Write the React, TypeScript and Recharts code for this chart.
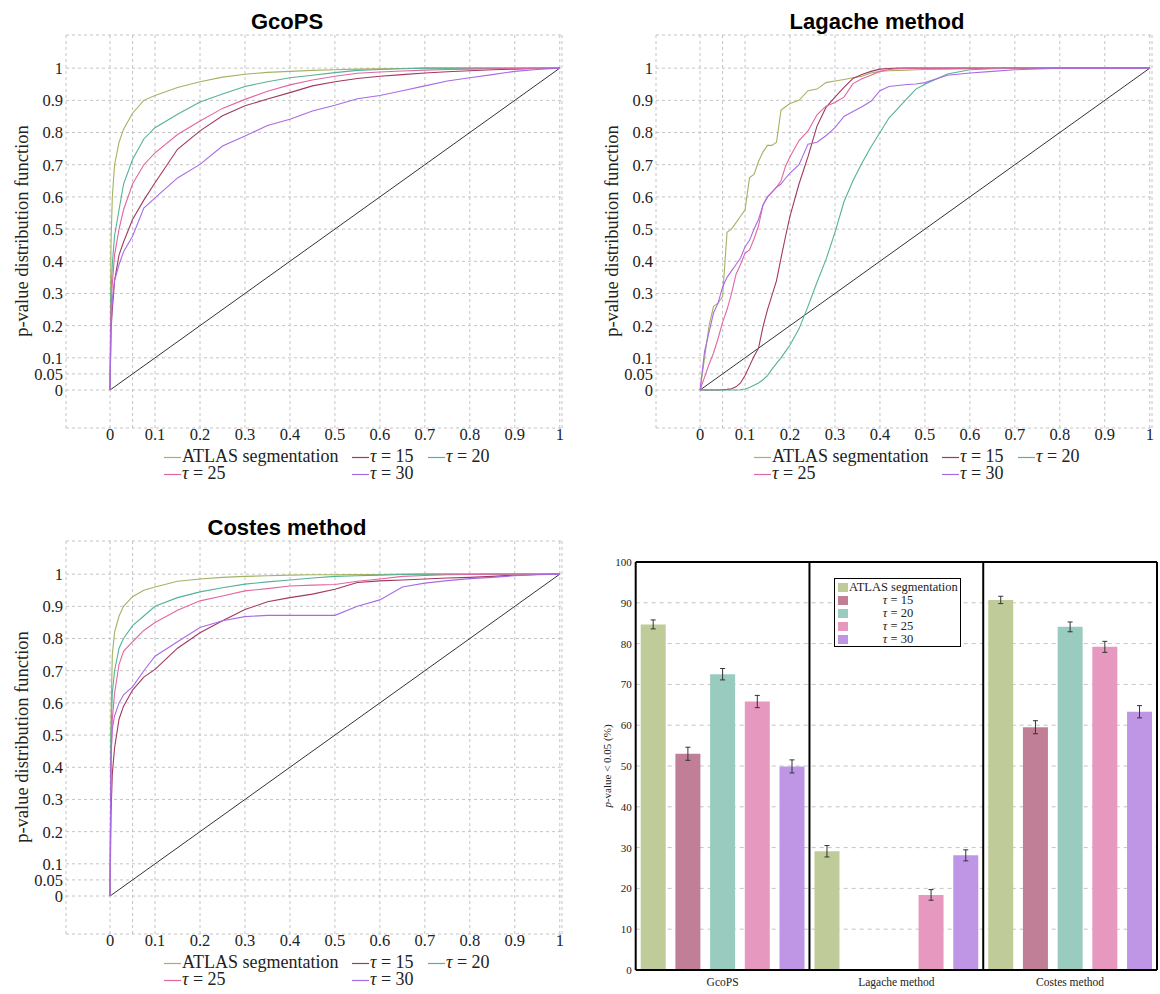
import React from "react";
import {
  LineChart,
  Line,
  XAxis,
  YAxis,
  CartesianGrid,
  ReferenceLine,
  BarChart,
  Bar,
  ErrorBar,
} from "recharts";

// x grid shared by the GcoPS and Costes curves
const smoothX = [0, 0.002, 0.005, 0.01, 0.02, 0.03, 0.05, 0.075, 0.1, 0.15, 0.2, 0.25, 0.3, 0.35, 0.4, 0.45, 0.5, 0.55, 0.6, 0.65, 0.7, 0.75, 0.8, 0.85, 0.9, 0.95, 1];

const gcopsAtlas = [0, 0.45, 0.6, 0.7, 0.77, 0.81, 0.86, 0.9, 0.915, 0.94, 0.958, 0.972, 0.981, 0.987, 0.99, 0.993, 0.995, 0.997, 0.998, 0.999, 1, 1, 1, 1, 1, 1, 1];
const gcopsTau15 = [0, 0.18, 0.25, 0.34, 0.42, 0.46, 0.53, 0.59, 0.644, 0.748, 0.805, 0.852, 0.883, 0.904, 0.924, 0.945, 0.958, 0.968, 0.975, 0.98, 0.985, 0.989, 0.992, 0.995, 0.997, 0.999, 1];
const gcopsTau20 = [0, 0.3, 0.39, 0.48, 0.56, 0.64, 0.716, 0.78, 0.815, 0.857, 0.895, 0.92, 0.943, 0.958, 0.97, 0.978, 0.986, 0.993, 0.996, 0.998, 1, 1, 1, 1, 1, 1, 1];
const gcopsTau25 = [0, 0.25, 0.33, 0.42, 0.5, 0.56, 0.64, 0.7, 0.737, 0.794, 0.836, 0.875, 0.903, 0.928, 0.948, 0.963, 0.975, 0.984, 0.988, 0.991, 0.994, 0.996, 0.997, 0.998, 0.999, 1, 1];
const gcopsTau30 = [0, 0.2, 0.28, 0.34, 0.39, 0.43, 0.478, 0.565, 0.597, 0.659, 0.701, 0.758, 0.789, 0.822, 0.841, 0.867, 0.885, 0.905, 0.915, 0.93, 0.945, 0.96, 0.97, 0.98, 0.99, 0.996, 1];

const costesAtlas = [0, 0.55, 0.75, 0.82, 0.87, 0.9, 0.93, 0.95, 0.96, 0.978, 0.985, 0.99, 0.993, 0.995, 0.997, 0.998, 0.998, 0.999, 0.999, 1, 1, 1, 1, 1, 1, 1, 1];
const costesTau15 = [0, 0.25, 0.38, 0.46, 0.55, 0.59, 0.64, 0.68, 0.704, 0.77, 0.818, 0.855, 0.89, 0.914, 0.927, 0.938, 0.953, 0.974, 0.979, 0.982, 0.985, 0.988, 0.99, 0.993, 0.997, 0.999, 1];
const costesTau20 = [0, 0.5, 0.63, 0.7, 0.77, 0.8, 0.84, 0.87, 0.9, 0.927, 0.945, 0.958, 0.969, 0.976, 0.982, 0.988, 0.993, 0.995, 0.997, 0.999, 1, 1, 1, 1, 1, 1, 1];
const costesTau25 = [0, 0.4, 0.55, 0.63, 0.72, 0.76, 0.79, 0.825, 0.85, 0.888, 0.917, 0.932, 0.948, 0.955, 0.963, 0.966, 0.968, 0.978, 0.985, 0.993, 0.996, 0.998, 0.999, 1, 1, 1, 1];
const costesTau30 = [0, 0.44, 0.52, 0.56, 0.6, 0.625, 0.65, 0.7, 0.745, 0.79, 0.834, 0.855, 0.868, 0.872, 0.872, 0.872, 0.872, 0.9, 0.92, 0.96, 0.972, 0.98, 0.986, 0.99, 0.995, 0.998, 1];

// finer grid for the stair-like Lagache curves
const lagacheX = [0, 0.01, 0.02, 0.03, 0.04, 0.05, 0.06, 0.07, 0.08, 0.09, 0.1, 0.11, 0.12, 0.13, 0.14, 0.15, 0.16, 0.17, 0.18, 0.19, 0.2, 0.22, 0.24, 0.26, 0.28, 0.3, 0.32, 0.34, 0.36, 0.38, 0.4, 0.42, 0.44, 0.46, 0.48, 0.5, 0.55, 0.6, 0.65, 0.7, 0.8, 0.9, 1];

const lagacheAtlas = [0, 0.1, 0.2, 0.26, 0.27, 0.29, 0.49, 0.5, 0.52, 0.54, 0.56, 0.66, 0.67, 0.71, 0.74, 0.76, 0.76, 0.77, 0.87, 0.88, 0.89, 0.9, 0.93, 0.935, 0.955, 0.96, 0.965, 0.97, 0.975, 0.985, 0.99, 0.992, 0.993, 0.994, 0.995, 0.996, 0.997, 0.998, 0.999, 1, 1, 1, 1];
const lagacheTau15 = [0, 0, 0, 0, 0, 0.001, 0.002, 0.004, 0.01, 0.022, 0.045, 0.075, 0.105, 0.13, 0.197, 0.25, 0.295, 0.34, 0.41, 0.477, 0.54, 0.64, 0.725, 0.82, 0.878, 0.91, 0.94, 0.968, 0.98, 0.99, 0.997, 0.999, 1, 1, 1, 1, 1, 1, 1, 1, 1, 1, 1];
const lagacheTau20 = [0, 0, 0, 0, 0, 0, 0, 0, 0, 0.001, 0.003, 0.008, 0.015, 0.022, 0.032, 0.045, 0.065, 0.083, 0.1, 0.12, 0.14, 0.19, 0.26, 0.335, 0.405, 0.49, 0.585, 0.65, 0.705, 0.755, 0.8, 0.845, 0.875, 0.905, 0.935, 0.95, 0.982, 0.995, 0.998, 1, 1, 1, 1];
const lagacheTau25 = [0, 0.04, 0.08, 0.115, 0.16, 0.21, 0.25, 0.3, 0.36, 0.39, 0.425, 0.435, 0.47, 0.51, 0.575, 0.6, 0.615, 0.63, 0.65, 0.695, 0.725, 0.775, 0.805, 0.855, 0.882, 0.893, 0.91, 0.952, 0.967, 0.978, 0.99, 0.996, 0.998, 1, 1, 1, 1, 1, 1, 1, 1, 1, 1];
const lagacheTau30 = [0, 0.12, 0.18, 0.24, 0.27, 0.32, 0.35, 0.37, 0.39, 0.41, 0.445, 0.465, 0.5, 0.53, 0.575, 0.6, 0.615, 0.63, 0.64, 0.658, 0.674, 0.7, 0.764, 0.77, 0.79, 0.815, 0.85, 0.865, 0.88, 0.897, 0.93, 0.943, 0.946, 0.949, 0.951, 0.955, 0.978, 0.985, 0.99, 0.995, 1, 1, 1];

const xTicks = [0, 0.05, 0.1, 0.2, 0.3, 0.4, 0.5, 0.6, 0.7, 0.8, 0.9, 1];
const yTicks = [0, 0.05, 0.1, 0.2, 0.3, 0.4, 0.5, 0.6, 0.7, 0.8, 0.9, 1];

// bar panel: share of p-values < 0.05 (%)
const methods = ["GcoPS", "Lagache method", "Costes method"];
const pctAtlas = [84.7, 29.1, 90.7];
const pctTau15 = [53.0, 0.2, 59.5];
const pctTau20 = [72.5, 0.2, 84.1];
const pctTau25 = [65.8, 18.4, 79.2];
const pctTau30 = [49.9, 28.1, 63.3];
const errAtlas = [1.1, 1.4, 0.9];
const errTau15 = [1.6, 0, 1.6];
const errTau20 = [1.4, 0, 1.2];
const errTau25 = [1.5, 1.3, 1.35];
const errTau30 = [1.6, 1.35, 1.5];
const pctTicks = [0, 10, 20, 30, 40, 50, 60, 70, 80, 90, 100];

const SERIES = [
  { key: "atlas", color: "#a5b262", bar: "#bfcc99", label: "ATLAS segmentation", tau: "" },
  { key: "tau15", color: "#a2385f", bar: "#c07f96", label: "", tau: "15" },
  { key: "tau20", color: "#55b296", bar: "#99cbbf", label: "", tau: "20" },
  { key: "tau25", color: "#e266a3", bar: "#e698be", label: "", tau: "25" },
  { key: "tau30", color: "#a86be6", bar: "#bf96e5", label: "", tau: "30" },
];

const SERIF = '"Liberation Serif", "Times New Roman", serif';
const INK = "#222";

function SeriesLabel({ s }: { s: (typeof SERIES)[number] }) {
  if (s.label) return <>{s.label}</>;
  return (
    <>
      <i>τ</i> = {s.tau}
    </>
  );
}

// legend slots under each CDF panel: [left, row]
const legendSlots: [number, number][] = [
  [164, 0],
  [352, 0],
  [428, 0],
  [164, 1],
  [352, 1],
];

function CdfPanel({
  left,
  top,
  title,
  xs,
  values,
}: {
  left: number;
  top: number;
  title: string;
  xs: number[];
  values: number[][];
}) {
  const rows = xs.map((x, i) => {
    const r: Record<string, number> = { x };
    SERIES.forEach((s, j) => (r[s.key] = values[j][i]));
    return r;
  });
  const tick = { fontFamily: SERIF, fontSize: 16.5, fill: INK };

  return (
    <div style={{ position: "absolute", left, top, width: 580, height: 490 }}>
      <div
        style={{
          position: "absolute",
          left: 0,
          top: 11,
          width: 574,
          textAlign: "center",
          fontFamily: '"Liberation Sans", Arial, sans-serif',
          fontWeight: "bold",
          fontSize: 22,
          lineHeight: 1,
          color: "#000",
        }}
      >
        {title}
      </div>
      <div
        style={{
          position: "absolute",
          left: 22 - 150,
          top: 231 - 11,
          width: 300,
          height: 22,
          lineHeight: "22px",
          textAlign: "center",
          transform: "rotate(-90deg)",
          fontFamily: SERIF,
          fontSize: 18.5,
          color: INK,
        }}
      >
        p-value distribution function
      </div>
      <div style={{ position: "absolute", left: 0, top: 0 }}>
        <LineChart width={580} height={450} data={rows} margin={{ top: 35, right: 18, bottom: 0, left: 0 }}>
          <CartesianGrid stroke="#c4c4c4" strokeDasharray="3 3" />
          <XAxis
            dataKey="x"
            type="number"
            domain={[-0.098, 1.005]}
            allowDataOverflow
            ticks={xTicks}
            interval={0}
            tickFormatter={(v: number) => (v === 0.05 ? "" : String(v))}
            tickLine={false}
            axisLine={false}
            tickSize={0}
            tickMargin={0}
            height={22}
            tick={tick}
          />
          <YAxis
            type="number"
            domain={[-0.118, 1.103]}
            allowDataOverflow
            ticks={yTicks}
            interval={0}
            tickFormatter={(v: number) => String(v)}
            tickLine={false}
            axisLine={false}
            tickSize={0}
            tickMargin={3}
            width={66}
            tick={tick}
          />
          <ReferenceLine segment={[{ x: 0, y: 0 }, { x: 1, y: 1 }]} stroke="#333" strokeWidth={1} />
          {SERIES.map((s) => (
            <Line
              key={s.key}
              type="linear"
              dataKey={s.key}
              stroke={s.color}
              strokeWidth={1.1}
              dot={false}
              isAnimationActive={false}
            />
          ))}
        </LineChart>
      </div>
      {SERIES.map((s, i) => {
        const [lx, row] = legendSlots[i];
        return (
          <div
            key={s.key}
            style={{
              position: "absolute",
              left: lx,
              top: 448 + row * 17.3,
              height: 17,
              lineHeight: "17px",
              whiteSpace: "nowrap",
              fontFamily: SERIF,
              fontSize: 18,
              color: INK,
            }}
          >
            <svg width={18} height={17} style={{ verticalAlign: "top" }}>
              <line x1={0} x2={17} y1={9.5} y2={9.5} stroke={s.color} strokeWidth={1.2} />
            </svg>
            <SeriesLabel s={s} />
          </div>
        );
      })}
    </div>
  );
}

function PctBars() {
  const pct = [pctAtlas, pctTau15, pctTau20, pctTau25, pctTau30];
  const err = [errAtlas, errTau15, errTau20, errTau25, errTau30];
  const rows = methods.map((name, i) => {
    const r: Record<string, number | string> = { name };
    SERIES.forEach((s, j) => {
      r[s.key] = pct[j][i];
      r[s.key + "Err"] = err[j][i];
    });
    return r;
  });

  return (
    <div style={{ position: "absolute", left: 590, top: 540, width: 570, height: 454 }}>
      <div
        style={{
          position: "absolute",
          left: 17 - 80,
          top: 226 - 8,
          width: 160,
          height: 16,
          lineHeight: "16px",
          textAlign: "center",
          transform: "rotate(-90deg)",
          fontFamily: SERIF,
          fontSize: 11,
          color: INK,
          whiteSpace: "nowrap",
        }}
      >
        <i>p</i>-value &lt; 0.05 (%)
      </div>
      <div style={{ position: "absolute", left: 0, top: 0 }}>
        <BarChart
          width={570}
          height={454}
          data={rows}
          margin={{ top: 22, right: 3, bottom: 0, left: 0 }}
          barSize={25}
          barGap={9.7}
        >
          <CartesianGrid vertical={false} stroke="#c4c4c4" strokeDasharray="4 4" />
          <XAxis
            dataKey="name"
            interval={0}
            tickLine={false}
            axisLine={false}
            tickSize={0}
            tickMargin={8}
            height={24}
            tick={{ fontFamily: SERIF, fontSize: 11.5, fill: INK }}
          />
          <YAxis
            domain={[0, 100]}
            ticks={pctTicks}
            interval={0}
            tickLine={false}
            axisLine={false}
            tickSize={0}
            tickMargin={4}
            width={45.7}
            tick={{ fontFamily: SERIF, fontSize: 11, fill: INK }}
          />
          {SERIES.map((s) => (
            <Bar key={s.key} dataKey={s.key} fill={s.bar} isAnimationActive={false}>
              <ErrorBar dataKey={s.key + "Err"} width={2.5} stroke="#333" strokeWidth={1} direction="y" />
            </Bar>
          ))}
          <ReferenceLine y={0} stroke="#000" strokeWidth={2} />
          <ReferenceLine y={100} stroke="#000" strokeWidth={2} />
          {methods.map((m) => (
            <ReferenceLine key={m} x={m} position="start" stroke="#000" strokeWidth={2} />
          ))}
          <ReferenceLine x={methods[methods.length - 1]} position="end" stroke="#000" strokeWidth={2} />
        </BarChart>
      </div>
      <div
        style={{
          position: "absolute",
          left: 244,
          top: 38,
          width: 127,
          height: 69,
          border: "1px solid #000",
          background: "#fff",
          boxSizing: "border-box",
          paddingTop: 2,
          fontFamily: SERIF,
          fontSize: 12.5,
          color: INK,
        }}
      >
        {SERIES.map((s) => (
          <div key={s.key} style={{ position: "relative", height: 13, lineHeight: "13px", whiteSpace: "nowrap" }}>
            <span
              style={{
                position: "absolute",
                left: 3,
                top: 2,
                width: 10,
                height: 9,
                background: s.bar,
              }}
            />
            {s.label ? (
              <span style={{ position: "absolute", left: 14 }}>{s.label}</span>
            ) : (
              <span style={{ position: "absolute", left: 13, width: 100, textAlign: "center" }}>
                <SeriesLabel s={s} />
              </span>
            )}
          </div>
        ))}
      </div>
    </div>
  );
}

export default function App() {
  return (
    <div
      style={{
        position: "absolute",
        left: 0,
        top: 0,
        width: 1160,
        height: 994,
        background: "#fff",
        overflow: "hidden",
      }}
    >
      <CdfPanel
        left={0}
        top={0}
        title="GcoPS"
        xs={smoothX}
        values={[gcopsAtlas, gcopsTau15, gcopsTau20, gcopsTau25, gcopsTau30]}
      />
      <CdfPanel
        left={590}
        top={0}
        title="Lagache method"
        xs={lagacheX}
        values={[lagacheAtlas, lagacheTau15, lagacheTau20, lagacheTau25, lagacheTau30]}
      />
      <CdfPanel
        left={0}
        top={506}
        title="Costes method"
        xs={smoothX}
        values={[costesAtlas, costesTau15, costesTau20, costesTau25, costesTau30]}
      />
      <PctBars />
    </div>
  );
}
